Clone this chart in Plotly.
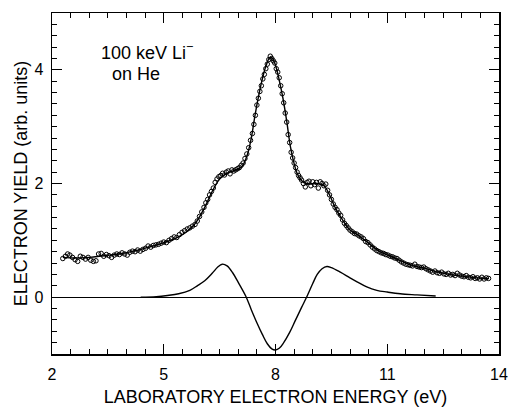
import plotly.graph_objects as go

# Measured data points (open circles)
data_x = [2.29, 2.36, 2.42, 2.48, 2.55, 2.62, 2.69, 2.76, 2.83, 2.90, 2.97, 3.04, 3.11, 3.18, 3.25, 3.32, 3.39,
          3.46, 3.53, 3.60, 3.67, 3.74, 3.81, 3.88, 3.95, 4.02, 4.09, 4.16, 4.23, 4.30, 4.37, 4.44, 4.51, 4.58,
          4.65, 4.72, 4.79, 4.86, 4.93, 5.00, 5.07, 5.14, 5.21, 5.28, 5.35, 5.42, 5.49, 5.56, 5.63, 5.70, 5.77,
          5.84, 5.90, 5.96, 6.02, 6.08, 6.13, 6.18, 6.23, 6.28, 6.33, 6.38, 6.43, 6.48, 6.53, 6.58, 6.63, 6.68,
          6.73, 6.78, 6.83, 6.88, 6.93, 6.98, 7.03, 7.08, 7.13, 7.18, 7.23, 7.28, 7.33, 7.38, 7.42, 7.46, 7.50,
          7.54, 7.58, 7.62, 7.66, 7.70, 7.74, 7.78, 7.82, 7.86, 7.90, 7.94, 7.98, 8.02, 8.06, 8.10, 8.14, 8.18,
          8.22, 8.26, 8.30, 8.34, 8.38, 8.42, 8.46, 8.50, 8.54, 8.58, 8.62, 8.66, 8.70, 8.75, 8.80, 8.85, 8.90,
          8.95, 9.00, 9.05, 9.10, 9.15, 9.20, 9.25, 9.30, 9.35, 9.40, 9.45, 9.50, 9.55, 9.60, 9.65, 9.70, 9.75,
          9.80, 9.85, 9.90, 9.95, 10.00, 10.06, 10.12, 10.18, 10.24, 10.30, 10.36, 10.42, 10.48, 10.54, 10.60,
          10.66, 10.72, 10.78, 10.84, 10.90, 10.96, 11.02, 11.08, 11.14, 11.20, 11.26, 11.32, 11.38, 11.44,
          11.50, 11.56, 11.62, 11.68, 11.74, 11.80, 11.86, 11.92, 11.98, 12.04, 12.10, 12.16, 12.22, 12.28,
          12.34, 12.40, 12.46, 12.52, 12.58, 12.64, 12.70, 12.76, 12.82, 12.88, 12.94, 13.00, 13.06, 13.12,
          13.18, 13.24, 13.30, 13.36, 13.42, 13.48, 13.54, 13.60, 13.66, 13.72]
data_y = [0.68, 0.72, 0.76, 0.74, 0.70, 0.66, 0.63, 0.72, 0.70, 0.67, 0.70, 0.65, 0.63, 0.64, 0.76, 0.77, 0.72,
          0.75, 0.73, 0.70, 0.74, 0.76, 0.75, 0.78, 0.76, 0.74, 0.79, 0.81, 0.80, 0.83, 0.81, 0.84, 0.86, 0.90,
          0.88, 0.91, 0.92, 0.93, 0.95, 0.97, 0.96, 1.00, 1.03, 1.06, 1.05, 1.10, 1.14, 1.17, 1.20, 1.22, 1.25,
          1.28, 1.34, 1.42, 1.50, 1.58, 1.66, 1.72, 1.80, 1.86, 1.92, 2.02, 2.08, 2.12, 2.14, 2.18, 2.15, 2.20,
          2.22, 2.17, 2.24, 2.22, 2.24, 2.26, 2.28, 2.32, 2.36, 2.44, 2.52, 2.63, 2.76, 2.88, 3.04, 3.20, 3.38,
          3.50, 3.62, 3.72, 3.84, 3.92, 4.02, 4.10, 4.18, 4.24, 4.20, 4.16, 4.12, 4.02, 3.96, 3.86, 3.72, 3.58,
          3.42, 3.24, 3.08, 2.86, 2.72, 2.55, 2.45, 2.36, 2.28, 2.20, 2.14, 2.10, 2.06, 2.00, 1.94, 2.02, 2.04,
          1.96, 2.03, 1.98, 2.02, 1.92, 2.03, 2.00, 1.96, 1.99, 1.88, 1.80, 1.72, 1.64, 1.58, 1.54, 1.48, 1.44,
          1.36, 1.30, 1.26, 1.22, 1.18, 1.15, 1.12, 1.11, 1.08, 1.06, 1.03, 0.98, 0.96, 0.92, 0.88,
          0.85, 0.82, 0.80, 0.78, 0.77, 0.75, 0.74, 0.72, 0.71, 0.69, 0.68, 0.65, 0.62, 0.60,
          0.58, 0.57, 0.56, 0.55, 0.58, 0.54, 0.53, 0.52, 0.53, 0.50, 0.48, 0.46, 0.44, 0.46,
          0.43, 0.42, 0.44, 0.41, 0.40, 0.42, 0.39, 0.40, 0.38, 0.42, 0.39, 0.37, 0.36, 0.38,
          0.35, 0.34, 0.36, 0.33, 0.34, 0.32, 0.35, 0.32, 0.34, 0.33]

# Fitted curve through the data
fit_x = [2.29, 2.6, 3.0, 3.4, 3.8, 4.2, 4.6, 5.0, 5.4, 5.8, 6.1, 6.3, 6.5, 6.7, 6.9, 7.1, 7.25, 7.35, 7.45,
         7.55, 7.65, 7.75, 7.85, 7.92, 8.0, 8.1, 8.2, 8.3, 8.4, 8.5, 8.6, 8.75, 8.9, 9.1, 9.3, 9.45, 9.6, 9.8,
         10.0, 10.2, 10.5, 10.8, 11.1, 11.4, 11.7, 12.0, 12.3, 12.6, 13.0, 13.4, 13.73]
fit_y = [0.70, 0.69, 0.70, 0.73, 0.76, 0.81, 0.88, 0.96, 1.06, 1.26, 1.58, 1.86, 2.08, 2.18, 2.23, 2.30, 2.52,
         2.80, 3.20, 3.55, 3.85, 4.08, 4.22, 4.20, 4.08, 3.82, 3.50, 3.10, 2.65, 2.35, 2.15, 2.02, 1.99, 2.00,
         1.96, 1.80, 1.58, 1.36, 1.18, 1.10, 0.95, 0.80, 0.72, 0.63, 0.55, 0.51, 0.45, 0.41, 0.37, 0.34, 0.33]

# Lower derivative-like curve
low_x = [4.38, 4.8, 5.1, 5.4, 5.7, 5.9, 6.1, 6.3, 6.45, 6.57, 6.7, 6.85, 7.0, 7.2, 7.35, 7.5, 7.65, 7.78, 7.9,
         8.0, 8.1, 8.22, 8.38, 8.54, 8.7, 8.85, 9.0, 9.12, 9.25, 9.38, 9.5, 9.74, 10.0, 10.19, 10.45, 10.72,
         11.0, 11.35, 11.8, 12.3]
low_y = [0.00, 0.01, 0.03, 0.06, 0.12, 0.20, 0.29, 0.42, 0.53, 0.58, 0.55, 0.43, 0.26, 0.02, -0.22, -0.45,
         -0.66, -0.82, -0.91, -0.93, -0.90, -0.80, -0.62, -0.40, -0.18, 0.02, 0.24, 0.40, 0.50, 0.54, 0.52,
         0.44, 0.34, 0.27, 0.18, 0.12, 0.09, 0.06, 0.04, 0.02]

FONT = "Liberation Sans, Arial, Helvetica, sans-serif"

fig = go.Figure()
fig.add_trace(go.Scatter(x=fit_x, y=fit_y, mode="lines", line=dict(color="black", width=1.4),
                         line_shape="spline", showlegend=False, hoverinfo="skip"))
fig.add_trace(go.Scatter(x=data_x, y=data_y, mode="markers",
                         marker=dict(symbol="circle-open", size=4.5, color="black", line=dict(width=1)),
                         showlegend=False, hoverinfo="skip"))
fig.add_trace(go.Scatter(x=low_x, y=low_y, mode="lines", line=dict(color="black", width=1.4),
                         line_shape="spline", showlegend=False, hoverinfo="skip"))

fig.add_annotation(x=3.25, y=4.33, xref="x", yref="y", text="100 keV Li<sup>\u2212</sup>", showarrow=False,
                   xanchor="left", yanchor="middle", font=dict(family=FONT, size=18, color="black"))
fig.add_annotation(x=3.55, y=3.93, xref="x", yref="y", text="on He", showarrow=False,
                   xanchor="left", yanchor="middle", font=dict(family=FONT, size=18, color="black"))

axis_common = dict(showgrid=False, showline=True, linecolor="black", linewidth=1.5, mirror="allticks",
                   ticks="inside", tickcolor="black", tickwidth=1.2, ticklen=10, automargin=False,
                   tickfont=dict(family=FONT, size=16, color="black"))

fig.update_xaxes(range=[2, 14], tick0=2, dtick=3, zeroline=False,
                 minor=dict(dtick=0.5, ticks="inside", ticklen=5, tickcolor="black", tickwidth=1),
                 title=dict(text="LABORATORY ELECTRON ENERGY (eV)", font=dict(family=FONT, size=18, color="black"),
                            standoff=10),
                 ticklabelstandoff=5, **axis_common)
fig.update_yaxes(range=[-1, 5], tick0=0, dtick=2, zeroline=True, zerolinecolor="black", zerolinewidth=1.3,
                 minor=dict(dtick=0.2, ticks="inside", ticklen=5, tickcolor="black", tickwidth=1),
                 title=dict(text="ELECTRON YIELD (arb. units)", font=dict(family=FONT, size=18, color="black"),
                            standoff=2),
                 ticklabelstandoff=4, **axis_common)

fig.update_layout(width=508, height=407, margin=dict(l=52, r=9, t=13, b=53), hovermode=False,
                  plot_bgcolor="white", paper_bgcolor="white", font=dict(family=FONT, color="black"))

# remove the browser's default 8px body margin so the figure sits at the page origin
fig.write_html("out.html", config={"displayModeBar": False, "staticPlot": True},
               post_script="document.body.style.margin='0';document.body.style.overflow='hidden';")
